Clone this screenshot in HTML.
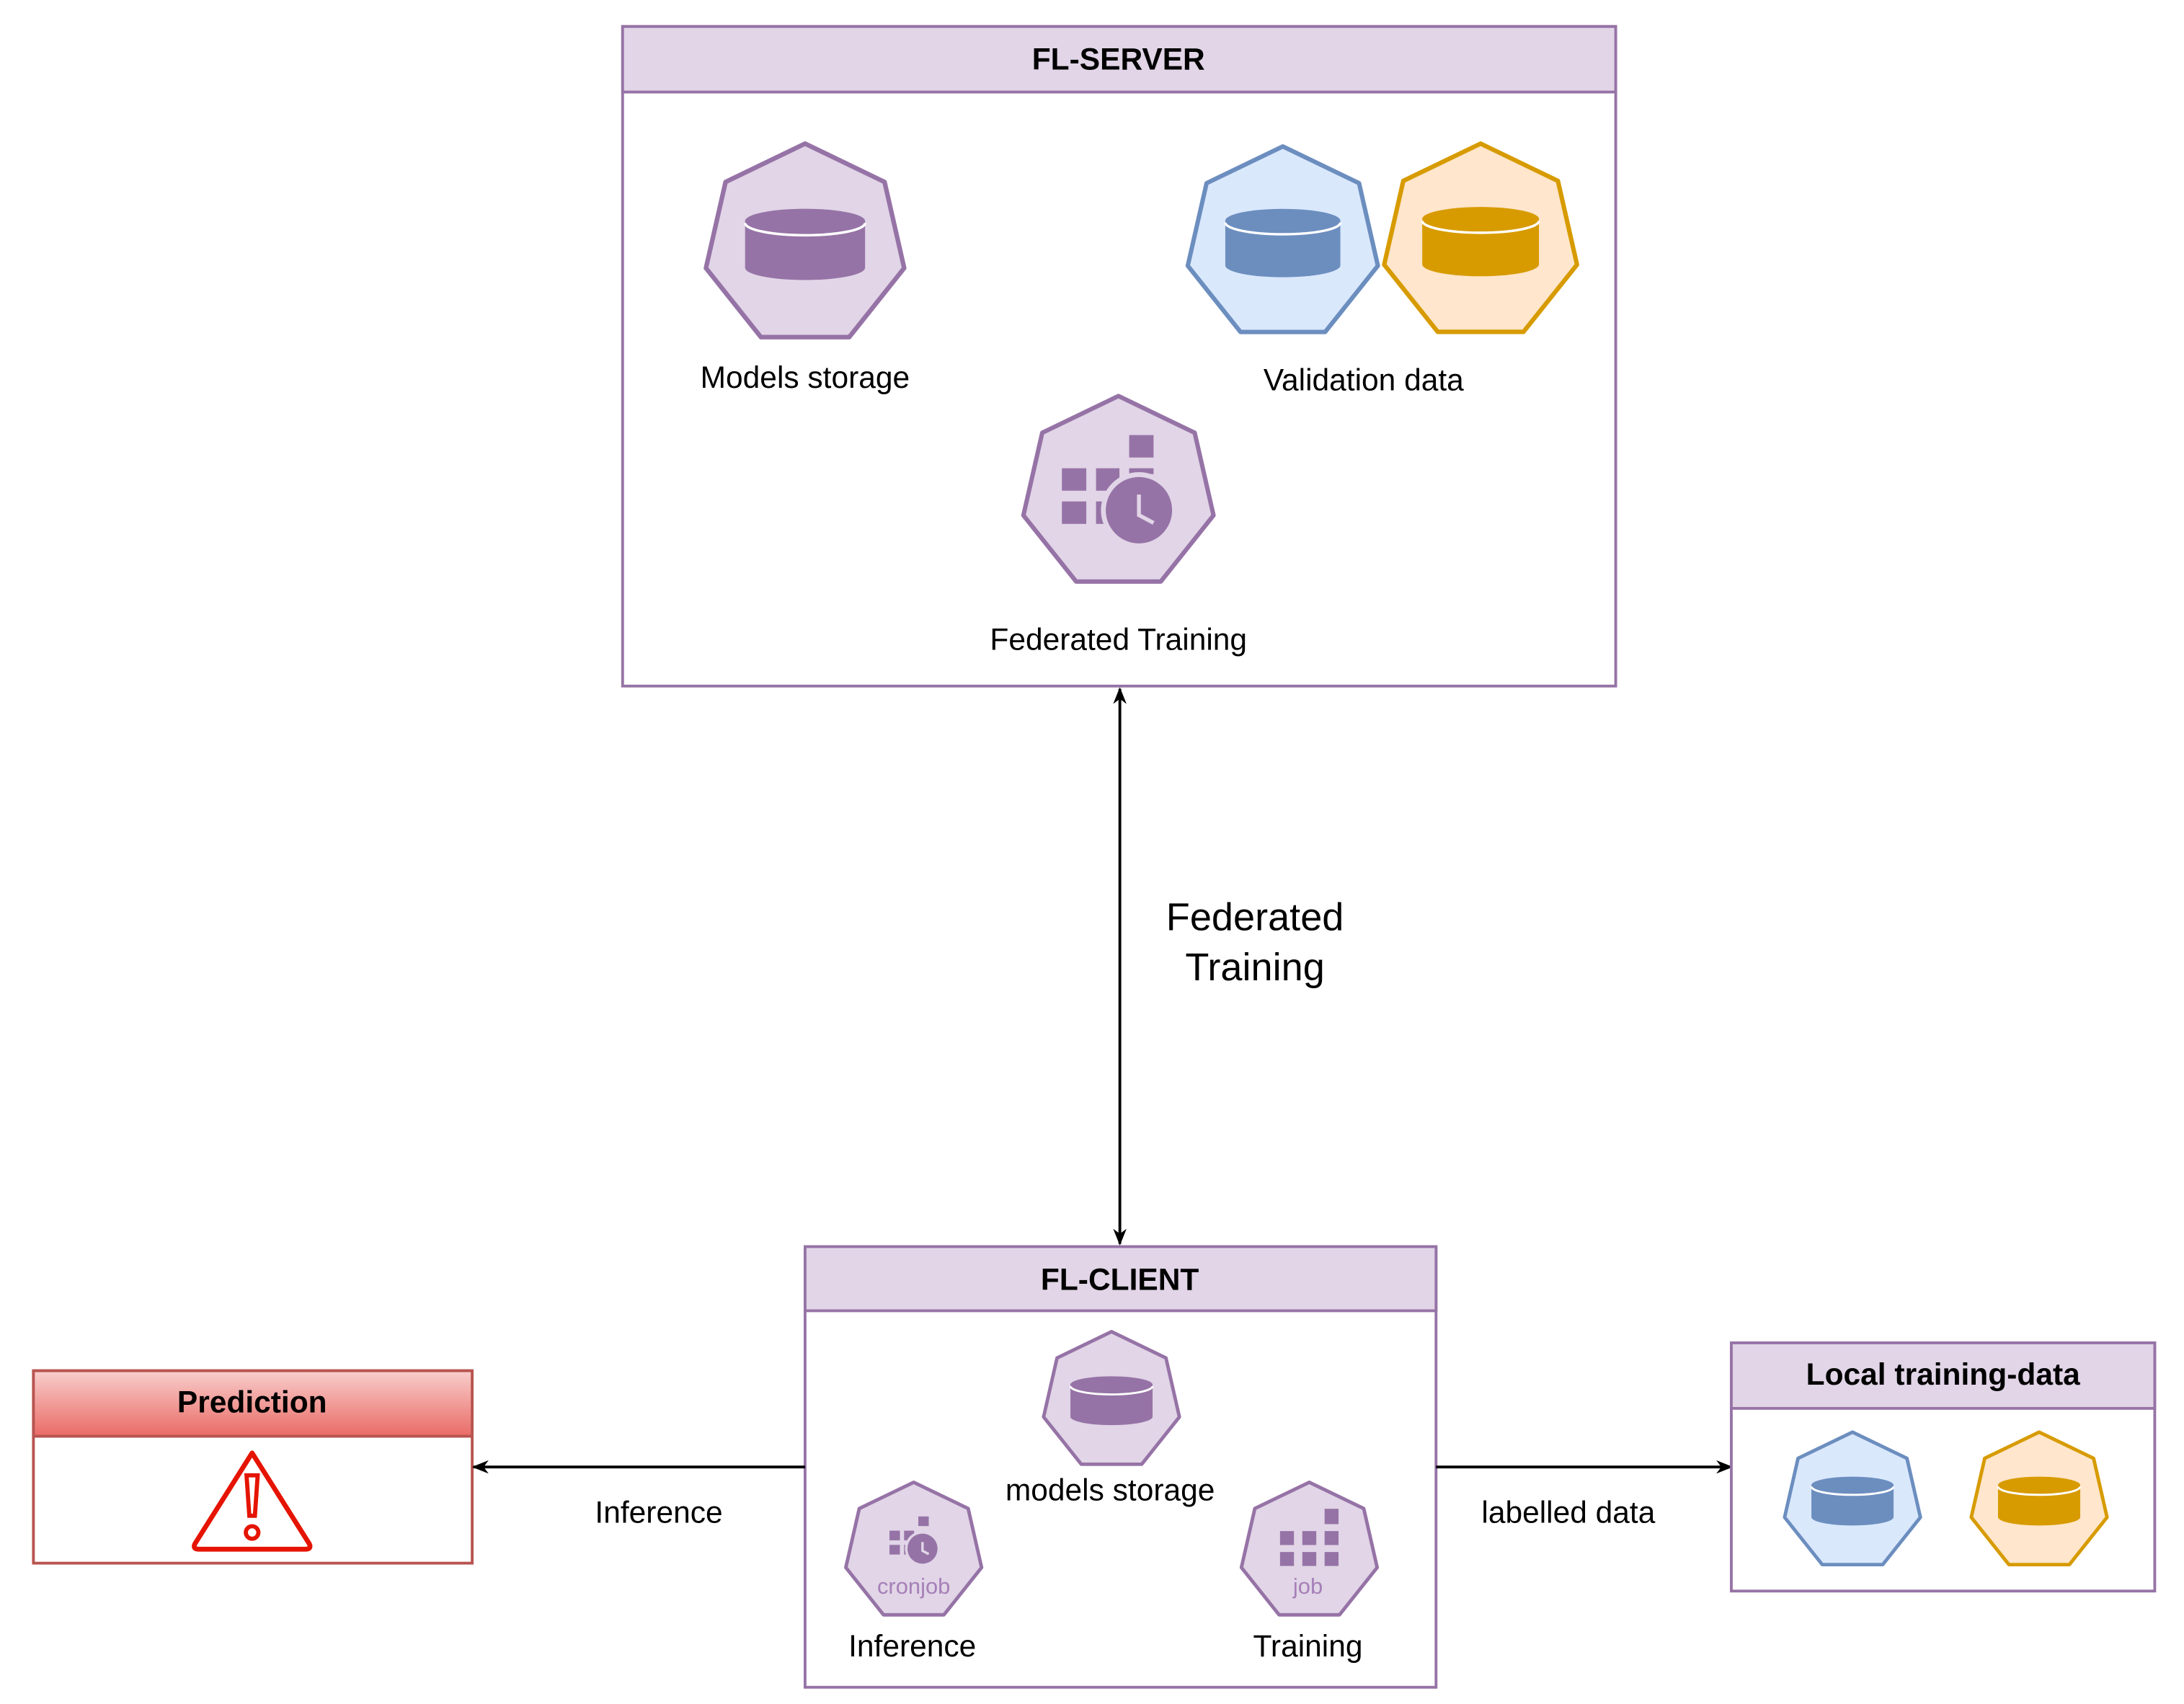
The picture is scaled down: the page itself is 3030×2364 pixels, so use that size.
<!DOCTYPE html>
<html><head><meta charset="utf-8"><style>
html,body{margin:0;padding:0;background:#fff;}
svg{display:block;}
text{font-family:"Liberation Sans",Arial,sans-serif;}
</style></head><body>
<svg width="3030" height="2364" viewBox="0 0 1568 1222" preserveAspectRatio="none" xmlns="http://www.w3.org/2000/svg">
<defs>
<linearGradient id="rg" x1="0" y1="0" x2="0" y2="1"><stop offset="0" stop-color="#f8cecc"/><stop offset="1" stop-color="#ea6b66"/></linearGradient>
<polygon id="hep" points="0,-1 0.7818,-0.6235 0.9749,0.2225 0.4339,0.901 -0.4339,0.901 -0.9749,0.2225 -0.7818,-0.6235"/>
<marker id="ah" viewBox="0 0 10 10" refX="9" refY="5" markerWidth="12" markerHeight="12" orient="auto-start-reverse" markerUnits="userSpaceOnUse"><path d="M0,1 L10,5 L0,9 L3,5 Z" fill="#000"/></marker>
</defs>

<rect x="447" y="19" width="713" height="473" fill="#fff" stroke="#9673a6" stroke-width="2"/>
<rect x="447" y="19" width="713" height="47" fill="#e1d5e7" stroke="#9673a6" stroke-width="2"/>
<text x="803" y="50" font-size="22" font-weight="bold" text-anchor="middle">FL-SERVER</text>

<g transform="translate(578,176) scale(73)">
<use href="#hep" fill="#e1d5e7" stroke="#9673a6" stroke-width="0.045" stroke-linejoin="round"/>
<rect x="-0.59" y="-0.24" width="1.18" height="0.46" fill="#9673a6"/>
<ellipse cx="0" cy="0.22" rx="0.59" ry="0.12" fill="#9673a6"/>
<ellipse cx="0" cy="-0.24" rx="0.59" ry="0.12" fill="#9673a6"/>
<path d="M-0.59,-0.22 A0.59,0.12 0 0 0 0.59,-0.22" fill="none" stroke="#fff" stroke-width="0.025"/>
</g>
<text x="578" y="278" font-size="22" text-anchor="middle">Models storage</text>

<g transform="translate(921,175) scale(70)">
<use href="#hep" fill="#dae8fc" stroke="#6c8ebf" stroke-width="0.045" stroke-linejoin="round"/>
<rect x="-0.59" y="-0.24" width="1.18" height="0.46" fill="#6c8ebf"/>
<ellipse cx="0" cy="0.22" rx="0.59" ry="0.12" fill="#6c8ebf"/>
<ellipse cx="0" cy="-0.24" rx="0.59" ry="0.12" fill="#6c8ebf"/>
<path d="M-0.59,-0.22 A0.59,0.12 0 0 0 0.59,-0.22" fill="none" stroke="#fff" stroke-width="0.025"/>
</g>
<g transform="translate(1063,174) scale(71)">
<use href="#hep" fill="#ffe6cc" stroke="#d79b00" stroke-width="0.045" stroke-linejoin="round"/>
<rect x="-0.59" y="-0.24" width="1.18" height="0.46" fill="#d79b00"/>
<ellipse cx="0" cy="0.22" rx="0.59" ry="0.12" fill="#d79b00"/>
<ellipse cx="0" cy="-0.24" rx="0.59" ry="0.12" fill="#d79b00"/>
<path d="M-0.59,-0.22 A0.59,0.12 0 0 0 0.59,-0.22" fill="none" stroke="#fff" stroke-width="0.025"/>
</g>
<text x="979" y="280" font-size="22" text-anchor="middle">Validation data</text>

<g transform="translate(803,354) scale(70)">
<use href="#hep" fill="#e1d5e7" stroke="#9673a6" stroke-width="0.045" stroke-linejoin="round"/>
<g fill="#9673a6">
<rect x="-0.58" y="-0.26" width="0.25" height="0.23"/>
<rect x="-0.23" y="-0.26" width="0.24" height="0.23"/>
<rect x="0.11" y="-0.60" width="0.25" height="0.23"/>
<rect x="0.11" y="-0.26" width="0.25" height="0.06"/>
<rect x="-0.58" y="0.08" width="0.25" height="0.23"/>
<rect x="-0.23" y="0.08" width="0.24" height="0.23"/>
</g>
<circle cx="0.21" cy="0.17" r="0.39" fill="#e1d5e7"/>
<circle cx="0.21" cy="0.17" r="0.34" fill="#9673a6"/>
<path d="M0.21,0.01 L0.21,0.22 L0.36,0.30" fill="none" stroke="#e1d5e7" stroke-width="0.04"/>
</g>
<text x="803" y="466" font-size="22" text-anchor="middle">Federated Training</text>

<line x1="804" y1="494" x2="804" y2="892" stroke="#000" stroke-width="2" marker-start="url(#ah)" marker-end="url(#ah)"/>
<text x="901" y="667" font-size="28" text-anchor="middle">Federated</text>
<text x="901" y="703" font-size="28" text-anchor="middle">Training</text>

<rect x="578" y="894" width="453" height="316" fill="#fff" stroke="#9673a6" stroke-width="2"/>
<rect x="578" y="894" width="453" height="46" fill="#e1d5e7" stroke="#9673a6" stroke-width="2"/>
<text x="804" y="925" font-size="22" font-weight="bold" text-anchor="middle">FL-CLIENT</text>

<g transform="translate(798,1005) scale(50)">
<use href="#hep" fill="#e1d5e7" stroke="#9673a6" stroke-width="0.05" stroke-linejoin="round"/>
<rect x="-0.59" y="-0.24" width="1.18" height="0.46" fill="#9673a6"/>
<ellipse cx="0" cy="0.22" rx="0.59" ry="0.12" fill="#9673a6"/>
<ellipse cx="0" cy="-0.24" rx="0.59" ry="0.12" fill="#9673a6"/>
<path d="M-0.59,-0.22 A0.59,0.12 0 0 0 0.59,-0.22" fill="none" stroke="#fff" stroke-width="0.03"/>
</g>
<text x="797" y="1076" font-size="22" text-anchor="middle">models storage</text>

<g transform="translate(656,1113) scale(50)">
<use href="#hep" fill="#e1d5e7" stroke="#9673a6" stroke-width="0.05" stroke-linejoin="round"/>
<g transform="translate(0,-0.15) scale(0.6)">
<g fill="#9673a6">
<rect x="-0.58" y="-0.26" width="0.25" height="0.23"/>
<rect x="-0.23" y="-0.26" width="0.24" height="0.23"/>
<rect x="0.11" y="-0.60" width="0.25" height="0.23"/>
<rect x="-0.58" y="0.08" width="0.25" height="0.23"/>
<rect x="-0.23" y="0.08" width="0.24" height="0.23"/>
</g>
<circle cx="0.21" cy="0.17" r="0.42" fill="#e1d5e7"/>
<circle cx="0.21" cy="0.17" r="0.36" fill="#9673a6"/>
<path d="M0.21,0.01 L0.21,0.22 L0.36,0.30" fill="none" stroke="#e1d5e7" stroke-width="0.06"/>
</g>
</g>
<text x="656" y="1143" font-size="16" fill="#a680b8" text-anchor="middle">cronjob</text>
<text x="655" y="1188" font-size="22" text-anchor="middle">Inference</text>

<g transform="translate(940,1113) scale(50)">
<use href="#hep" fill="#e1d5e7" stroke="#9673a6" stroke-width="0.05" stroke-linejoin="round"/>
</g>
<g fill="#9673a6">
<rect x="951" y="1082" width="10" height="11"/>
<rect x="919" y="1098" width="10" height="10"/><rect x="935" y="1098" width="10" height="10"/><rect x="951" y="1098" width="10" height="10"/>
<rect x="919" y="1113" width="10" height="10"/><rect x="935" y="1113" width="10" height="10"/><rect x="951" y="1113" width="10" height="10"/>
</g>
<text x="939" y="1143" font-size="16" fill="#a680b8" text-anchor="middle">job</text>
<text x="939" y="1188" font-size="22" text-anchor="middle">Training</text>

<rect x="24" y="983" width="315" height="138" fill="#fff" stroke="#b85450" stroke-width="2"/>
<rect x="24" y="983" width="315" height="47" fill="url(#rg)" stroke="#b85450" stroke-width="2"/>
<text x="181" y="1013" font-size="22" font-weight="bold" text-anchor="middle">Prediction</text>
<path d="M181,1042 L222,1107 Q224,1111 219,1111 L143,1111 Q138,1111 140,1107 Z" fill="#fff" stroke="#e51400" stroke-width="3.5" stroke-linejoin="round"/>
<path d="M177,1058 L185,1058 L183,1087 L179,1087 Z" fill="#fff" stroke="#e51400" stroke-width="3"/>
<circle cx="181" cy="1099" r="4.5" fill="#fff" stroke="#e51400" stroke-width="3"/>

<line x1="578" y1="1052" x2="340" y2="1052" stroke="#000" stroke-width="2" marker-end="url(#ah)"/>
<text x="473" y="1092" font-size="22" text-anchor="middle">Inference</text>
<line x1="1031" y1="1052" x2="1243" y2="1052" stroke="#000" stroke-width="2" marker-end="url(#ah)"/>
<text x="1126" y="1092" font-size="22" text-anchor="middle">labelled data</text>

<rect x="1243" y="963" width="304" height="178" fill="#fff" stroke="#9673a6" stroke-width="2"/>
<rect x="1243" y="963" width="304" height="47" fill="#e1d5e7" stroke="#9673a6" stroke-width="2"/>
<text x="1395" y="993" font-size="22" font-weight="bold" text-anchor="middle">Local training-data</text>
<g transform="translate(1330,1077) scale(50)">
<use href="#hep" fill="#dae8fc" stroke="#6c8ebf" stroke-width="0.05" stroke-linejoin="round"/>
<rect x="-0.59" y="-0.24" width="1.18" height="0.46" fill="#6c8ebf"/>
<ellipse cx="0" cy="0.22" rx="0.59" ry="0.12" fill="#6c8ebf"/>
<ellipse cx="0" cy="-0.24" rx="0.59" ry="0.12" fill="#6c8ebf"/>
<path d="M-0.59,-0.22 A0.59,0.12 0 0 0 0.59,-0.22" fill="none" stroke="#fff" stroke-width="0.03"/>
</g>
<g transform="translate(1464,1077) scale(50)">
<use href="#hep" fill="#ffe6cc" stroke="#d79b00" stroke-width="0.05" stroke-linejoin="round"/>
<rect x="-0.59" y="-0.24" width="1.18" height="0.46" fill="#d79b00"/>
<ellipse cx="0" cy="0.22" rx="0.59" ry="0.12" fill="#d79b00"/>
<ellipse cx="0" cy="-0.24" rx="0.59" ry="0.12" fill="#d79b00"/>
<path d="M-0.59,-0.22 A0.59,0.12 0 0 0 0.59,-0.22" fill="none" stroke="#fff" stroke-width="0.03"/>
</g>
</svg>
</body></html>
